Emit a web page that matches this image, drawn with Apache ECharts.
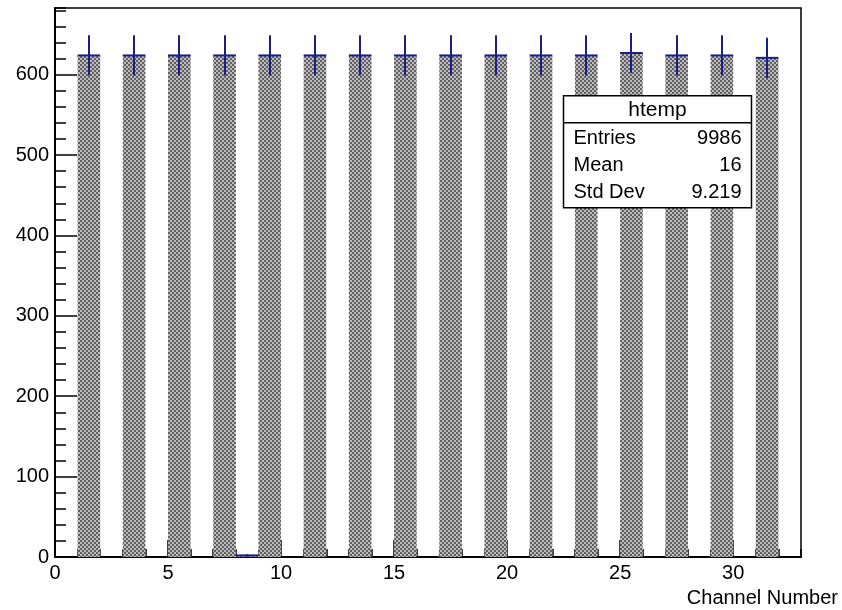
<!DOCTYPE html>
<html>
<head>
<meta charset="utf-8">
<script src="https://cdn.jsdelivr.net/npm/echarts@6/dist/echarts.min.js"></script>
<style>
html,body{margin:0;padding:0;background:#fff;}
#chart{width:842px;height:610px;}
</style>
</head>
<body>
<div id="chart"></div>
<script>
// Histogram bins: lower edges (width 1)
var binLow = [0,1,2,3,4,5,6,7,8,9,10,11,12,13,14,15,16,17,18,19,20,21,22,23,24,25,26,27,28,29,30,31,32];
var counts = [0,624,0,624,0,624,0,624,2,624,0,624,0,624,0,624,0,624,0,624,0,624,0,624,0,627,0,624,0,624,0,621,0];
var errors = [0,25,0,25,0,25,0,25,1.4,25,0,25,0,25,0,25,0,25,0,25,0,25,0,25,0,25,0,25,0,25,0,25,0];
var xTickLabels = [0,5,10,15,20,25,30];
var yTickLabels = [0,100,200,300,400,500,600];
var xTitle = 'Channel Number';
var statsTitle = 'htemp';
var statsNames = ['Entries','Mean','Std Dev'];
var statsValues = ['9986','16','9.219'];

var FONT = '"Liberation Sans", Arial, Helvetica, sans-serif';
var BLUE = '#1a1f86';

// checker hatch pattern
var pc = document.createElement('canvas');
pc.width = 4; pc.height = 4;
var g = pc.getContext('2d');
g.fillStyle = '#bcbcbc'; g.fillRect(0,0,4,4);
g.fillStyle = '#606060'; g.fillRect(0,0,2,2); g.fillRect(2,2,2,2);
var pattern = {image: pc, repeat: 'repeat'};

var data = binLow.map(function(b,i){ return [b, counts[i], errors[i]]; });

var chart = echarts.init(document.getElementById('chart'), null, {renderer:'canvas'});

var XMIN = 0, XMAX = 33, YMIN = 0, YMAX = 683;

function xLabelFmt(v){ return xTickLabels.indexOf(v) >= 0 ? String(v) : ''; }
function yLabelFmt(v){ return yTickLabels.indexOf(v) >= 0 ? String(v) : ''; }

var option = {
  animation: false,
  backgroundColor: '#fff',
  title: {
    text: xTitle, right: 4, top: 588, padding: 0,
    textStyle: {fontFamily: FONT, fontSize: 20, fontWeight: 'normal', color: '#000'}
  },
  grid: {left: 55, right: 41, top: 8, bottom: 53, show: true, borderColor: '#000', borderWidth: 1.5, backgroundColor: 'transparent'},
  xAxis: [
    {type:'value', min: XMIN, max: XMAX, interval: 1, position:'bottom',
     axisLine:{show:true, onZero:false, lineStyle:{color:'#000', width:2}},
     axisTick:{show:true, inside:true, length:8, lineStyle:{color:'#000', width:1.5}},
     axisLabel:{show:false}, splitLine:{show:false}},
    {type:'value', min: XMIN, max: XMAX, interval: 5, position:'bottom',
     axisLine:{show:false, onZero:false},
     axisTick:{show:true, inside:true, length:17, lineStyle:{color:'#000', width:1.5}},
     axisLabel:{show:true, margin:6, formatter: xLabelFmt, fontFamily: FONT, fontSize: 20, color:'#000', showMaxLabel:false},
     splitLine:{show:false}}
  ],
  yAxis: [
    {type:'value', min: YMIN, max: YMAX, interval: 20, position:'left',
     axisLine:{show:true, onZero:false, lineStyle:{color:'#000', width:2}},
     axisTick:{show:true, inside:true, length:11, lineStyle:{color:'#000', width:1.5}},
     axisLabel:{show:false}, splitLine:{show:false}},
    {type:'value', min: YMIN, max: YMAX, interval: 100, position:'left',
     axisLine:{show:false, onZero:false},
     axisTick:{show:true, inside:true, length:22, lineStyle:{color:'#000', width:1.5}},
     axisLabel:{show:true, margin:6, formatter: yLabelFmt, fontFamily: FONT, fontSize: 20, color:'#000', showMaxLabel:false},
     splitLine:{show:false}}
  ],
  series: [{
    type: 'custom',
    xAxisIndex: 0, yAxisIndex: 0,
    data: data,
    clip: true,
    z: 2,
    renderItem: function(params, api){
      var lo = api.value(0), c = api.value(1), e = api.value(2);
      if (!(c > 0)) return null;
      var p0 = api.coord([lo, c]);
      var p1 = api.coord([lo + 1, 0]);
      var top = api.coord([lo + 0.5, c + e]);
      var bot = api.coord([lo + 0.5, c - e]);
      var xm = Math.round(top[0]);
      return {type:'group', children:[
        {type:'rect', shape:{x:p0[0], y:p0[1], width:p1[0]-p0[0], height:p1[1]-p0[1]}, style:{fill: pattern}},
        {type:'line', shape:{x1:p0[0], y1:p0[1], x2:p1[0], y2:p0[1]}, style:{stroke: BLUE, lineWidth: 2}},
        {type:'line', shape:{x1:xm, y1:top[1], x2:xm, y2:bot[1]}, style:{stroke: BLUE, lineWidth: 2}}
      ]};
    }
  }],
  graphic: [{
    type: 'group', left: 561, top: 95, z: 100, zlevel: 1,
    children: [
      {type:'rect', z:100, zlevel:1, shape:{x:0, y:0, width:188, height:112}, style:{fill:'#fff', stroke:'#000', lineWidth:1.5}},
      {type:'line', z:101, zlevel:1, shape:{x1:0, y1:27, x2:188, y2:27}, style:{stroke:'#000', lineWidth:1.5}},
      {type:'text', z:101, zlevel:1, x:94, y:14, style:{text: statsTitle, font: '21px ' + FONT, fill:'#000', align:'center', verticalAlign:'middle'}},
      {type:'text', z:101, zlevel:1, x:10, y:43, style:{text: statsNames[0], font: '20px ' + FONT, fill:'#000', align:'left', verticalAlign:'middle'}},
      {type:'text', z:101, zlevel:1, x:178, y:43, style:{text: statsValues[0], font: '20px ' + FONT, fill:'#000', align:'right', verticalAlign:'middle'}},
      {type:'text', z:101, zlevel:1, x:10, y:70, style:{text: statsNames[1], font: '20px ' + FONT, fill:'#000', align:'left', verticalAlign:'middle'}},
      {type:'text', z:101, zlevel:1, x:178, y:70, style:{text: statsValues[1], font: '20px ' + FONT, fill:'#000', align:'right', verticalAlign:'middle'}},
      {type:'text', z:101, zlevel:1, x:10, y:97, style:{text: statsNames[2], font: '20px ' + FONT, fill:'#000', align:'left', verticalAlign:'middle'}},
      {type:'text', z:101, zlevel:1, x:178, y:97, style:{text: statsValues[2], font: '20px ' + FONT, fill:'#000', align:'right', verticalAlign:'middle'}}
    ]
  }]
};
chart.setOption(option);
</script>
</body>
</html>
